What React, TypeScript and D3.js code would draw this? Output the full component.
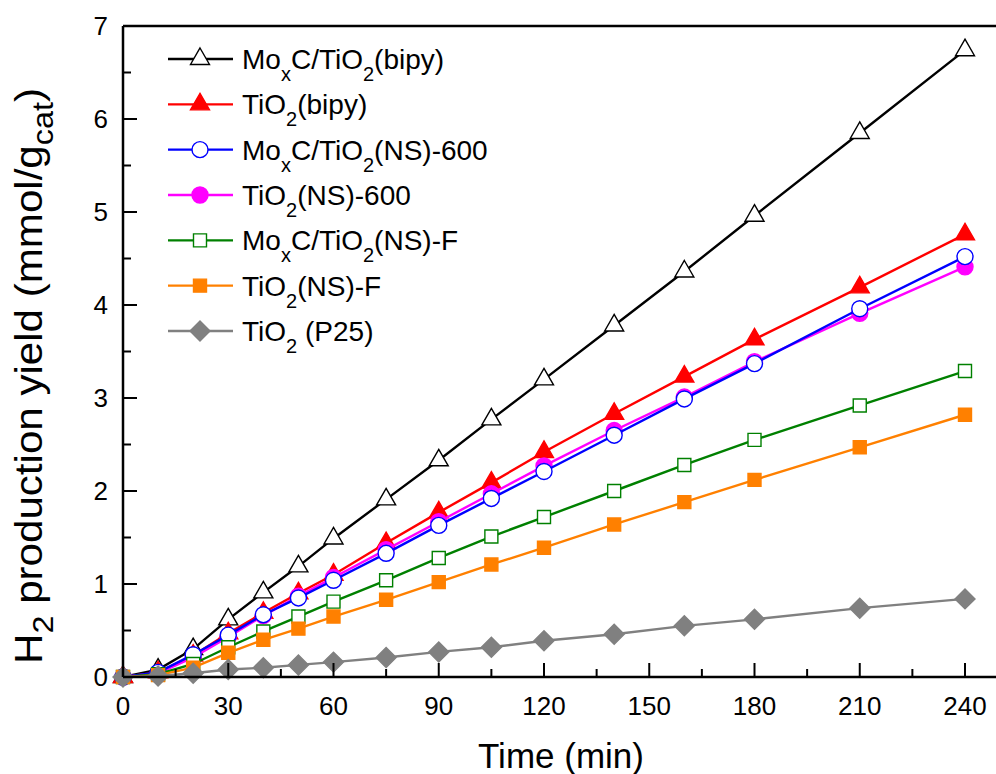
import { useEffect, useRef } from 'react';
import * as d3 from 'd3';

// time points (min)
const times = [0, 10, 20, 30, 40, 50, 60, 75, 90, 105, 120, 140, 160, 180, 210, 240];

// H2 yield (mmol/gcat) per sample
const moxcBipy = [0, 0.08, 0.3, 0.62, 0.91, 1.19, 1.49, 1.91, 2.33, 2.77, 3.2, 3.78, 4.36, 4.96, 5.85, 6.74];
const tio2Bipy = [0, 0.05, 0.23, 0.47, 0.69, 0.9, 1.1, 1.44, 1.77, 2.09, 2.42, 2.83, 3.23, 3.63, 4.19, 4.76];
const moxcNs600 = [0, 0.05, 0.24, 0.45, 0.67, 0.85, 1.04, 1.33, 1.63, 1.92, 2.21, 2.6, 2.99, 3.37, 3.96, 4.52];
const tio2Ns600 = [0, 0.04, 0.21, 0.43, 0.66, 0.87, 1.07, 1.37, 1.67, 1.97, 2.27, 2.65, 3.01, 3.39, 3.91, 4.41];
const moxcNsF = [0, 0.03, 0.14, 0.32, 0.49, 0.65, 0.81, 1.04, 1.28, 1.51, 1.72, 2.0, 2.28, 2.55, 2.92, 3.29];
const tio2NsF = [0, 0.02, 0.1, 0.26, 0.4, 0.52, 0.65, 0.83, 1.02, 1.21, 1.39, 1.64, 1.88, 2.12, 2.47, 2.82];
const tio2P25 = [0, 0.01, 0.04, 0.08, 0.1, 0.13, 0.16, 0.21, 0.27, 0.32, 0.39, 0.46, 0.55, 0.62, 0.74, 0.84];

const xTicks = [0, 30, 60, 90, 120, 150, 180, 210, 240];
const xMinorTicks = [15, 45, 75, 105, 135, 165, 195, 225];
const yTicks = [0, 1, 2, 3, 4, 5, 6, 7];
const yMinorTicks = [0.5, 1.5, 2.5, 3.5, 4.5, 5.5, 6.5];

type Part = { t: string; sub?: boolean };
type Series = { name: Part[]; values: number[]; color: string; marker: string; fill: string };

// legend order
const series: Series[] = [
  { name: [{ t: 'Mo' }, { t: 'x', sub: true }, { t: 'C/TiO' }, { t: '2', sub: true }, { t: '(bipy)' }], values: moxcBipy, color: '#000000', marker: 'triangle', fill: '#ffffff' },
  { name: [{ t: 'TiO' }, { t: '2', sub: true }, { t: '(bipy)' }], values: tio2Bipy, color: '#ff0000', marker: 'triangle', fill: '#ff0000' },
  { name: [{ t: 'Mo' }, { t: 'x', sub: true }, { t: 'C/TiO' }, { t: '2', sub: true }, { t: '(NS)-600' }], values: moxcNs600, color: '#0000ff', marker: 'circle', fill: '#ffffff' },
  { name: [{ t: 'TiO' }, { t: '2', sub: true }, { t: '(NS)-600' }], values: tio2Ns600, color: '#ff00ff', marker: 'circle', fill: '#ff00ff' },
  { name: [{ t: 'Mo' }, { t: 'x', sub: true }, { t: 'C/TiO' }, { t: '2', sub: true }, { t: '(NS)-F' }], values: moxcNsF, color: '#008000', marker: 'square', fill: '#ffffff' },
  { name: [{ t: 'TiO' }, { t: '2', sub: true }, { t: '(NS)-F' }], values: tio2NsF, color: '#ff8000', marker: 'square', fill: '#ff8000' },
  { name: [{ t: 'TiO' }, { t: '2', sub: true }, { t: ' (P25)' }], values: tio2P25, color: '#808080', marker: 'diamond', fill: '#808080' },
];

// draw order (magenta under blue)
const drawOrder = [0, 1, 3, 2, 4, 5, 6];

function markerPath(kind: string) {
  if (kind === 'triangle') return 'M0,-11L9.5,5.5L-9.5,5.5Z';
  if (kind === 'circle') return d3.arc()({ innerRadius: 0, outerRadius: 8, startAngle: 0, endAngle: 2 * Math.PI }) as string;
  if (kind === 'square') return 'M-6.5,-6.5H6.5V6.5H-6.5Z';
  return 'M0,-10L10,0L0,10L-10,0Z';
}

const FONT = 'Arial, "Liberation Sans", Helvetica, sans-serif';

function App() {
  const svgRef = useRef<SVGSVGElement>(null);

  useEffect(() => {
    const W = 996;
    const H = 774;
    const svg = d3.select(svgRef.current);
    svg.selectAll('*').remove();
    svg.attr('width', W).attr('height', H);

    const left = 123;
    const bottom = 677;
    const top = 26;
    const pxPerMin = (965 - left) / 240;

    const x = d3.scaleLinear().domain([0, (W - left) / pxPerMin]).range([left, W]);
    const y = d3.scaleLinear().domain([0, 7]).range([bottom, top]);

    const g = svg.append('g').style('font-family', FONT);

    // lines + markers
    drawOrder.forEach(i => {
      const s = series[i];
      const pts = times.map((t, k) => [t, s.values[k]] as [number, number]);
      const line = d3.line<[number, number]>().x(d => x(d[0])).y(d => y(d[1]));
      g.append('path')
        .datum(pts)
        .attr('fill', 'none')
        .attr('stroke', s.color)
        .attr('stroke-width', 2.4)
        .attr('d', line);
      g.selectAll(null)
        .data(pts)
        .join('path')
        .attr('transform', d => `translate(${x(d[0])},${y(d[1])})`)
        .attr('d', markerPath(s.marker))
        .attr('fill', s.fill)
        .attr('stroke', s.color)
        .attr('stroke-width', 1.4);
    });

    // frame lines
    g.append('line').attr('x1', left).attr('x2', W).attr('y1', bottom).attr('y2', bottom)
      .attr('stroke', '#000').attr('stroke-width', 2.5);
    g.append('line').attr('x1', left).attr('x2', W).attr('y1', top).attr('y2', top)
      .attr('stroke', '#000').attr('stroke-width', 2.5);
    g.append('line').attr('x1', left).attr('x2', left).attr('y1', top).attr('y2', bottom)
      .attr('stroke', '#000').attr('stroke-width', 2.5);

    // x ticks (inward)
    xTicks.forEach(v => {
      g.append('line').attr('x1', x(v)).attr('x2', x(v)).attr('y1', bottom).attr('y2', bottom - 14)
        .attr('stroke', '#000').attr('stroke-width', 2);
      g.append('text').attr('x', x(v)).attr('y', 715).attr('text-anchor', 'middle')
        .style('font-size', '26px').text(v);
    });
    xMinorTicks.forEach(v => {
      g.append('line').attr('x1', x(v)).attr('x2', x(v)).attr('y1', bottom).attr('y2', bottom - 8)
        .attr('stroke', '#000').attr('stroke-width', 2);
    });

    // y ticks (inward)
    yTicks.forEach(v => {
      g.append('line').attr('x1', left).attr('x2', left + 14).attr('y1', y(v)).attr('y2', y(v))
        .attr('stroke', '#000').attr('stroke-width', 2);
      g.append('text').attr('x', 108).attr('y', y(v) + 9).attr('text-anchor', 'end')
        .style('font-size', '26px').text(v);
    });
    yMinorTicks.forEach(v => {
      g.append('line').attr('x1', left).attr('x2', left + 8).attr('y1', y(v)).attr('y2', y(v))
        .attr('stroke', '#000').attr('stroke-width', 2);
    });

    // axis titles
    g.append('text').attr('x', 561).attr('y', 768).attr('text-anchor', 'middle')
      .style('font-size', '35px').text('Time (min)');

    const yt = g.append('text')
      .attr('transform', `translate(42,376) rotate(-90)`)
      .attr('text-anchor', 'middle')
      .attr('textLength', 576)
      .attr('lengthAdjust', 'spacingAndGlyphs')
      .style('font-size', '39px');
    yt.append('tspan').text('H');
    yt.append('tspan').attr('dy', 11).style('font-size', '30px').text('2');
    yt.append('tspan').attr('dy', -11).text(' production yield (mmol/g');
    yt.append('tspan').attr('dy', 11).style('font-size', '30px').text('cat');
    yt.append('tspan').attr('dy', -11).text(')');

    // legend
    const legY = d3.scaleLinear().domain([0, 6]).range([59, 331]);
    series.forEach((s, i) => {
      const ly = legY(i);
      g.append('line').attr('x1', 168).attr('x2', 233).attr('y1', ly).attr('y2', ly)
        .attr('stroke', s.color).attr('stroke-width', 2.4);
      g.append('path').attr('transform', `translate(200,${ly})`).attr('d', markerPath(s.marker))
        .attr('fill', s.fill).attr('stroke', s.color).attr('stroke-width', 1.4);
      const txt = g.append('text').attr('x', 242).attr('y', ly + 10).style('font-size', '28px');
      let shifted = false;
      s.name.forEach(p => {
        const ts = txt.append('tspan').text(p.t);
        if (p.sub) {
          ts.attr('dy', 12).style('font-size', '20px');
          shifted = true;
        } else if (shifted) {
          ts.attr('dy', -12);
          shifted = false;
        }
      });
    });
  }, []);

  return (
    <div style={{ position: 'absolute', left: 0, top: 0 }}>
      <svg ref={svgRef} style={{ display: 'block', background: '#fff' }}></svg>
    </div>
  );
}

export default App;
